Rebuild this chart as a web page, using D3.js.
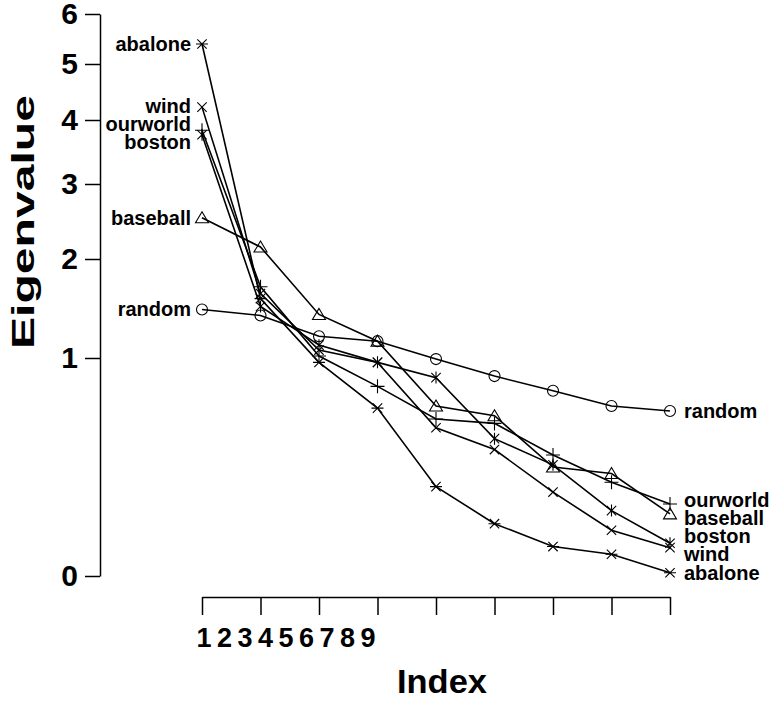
<!DOCTYPE html>
<html>
<head>
<meta charset="utf-8">
<script src="https://cdn.jsdelivr.net/npm/d3@7"></script>
<style>
  body { margin: 0; background: #fff; }
  text { font-family: "Liberation Sans", Arial, sans-serif; font-weight: bold; fill: #000; }
</style>
</head>
<body>
<svg id="chart" width="772" height="702"></svg>
<script>
// data
const indices = [1, 2, 3, 4, 5, 6, 7, 8, 9];
const xTickLabels = ["1", "2", "3", "4", "5", "6", "7", "8", "9"];
const yTicks = [0, 1, 2, 3, 4, 5, 6];
const seriesNames = ["abalone", "wind", "ourworld", "boston", "baseball", "random"];
const abalone  = [5.40, 1.60, 0.98, 0.77, 0.41, 0.24, 0.135, 0.10, 0.015];
const wind     = [4.23, 1.65, 1.08, 0.98, 0.68, 0.58, 0.385, 0.21, 0.13];
const ourworld = [3.84, 1.72, 1.02, 0.87, 0.72, 0.70, 0.555, 0.43, 0.33];
const boston   = [3.77, 1.52, 1.13, 0.98, 0.91, 0.63, 0.51, 0.30, 0.15];
const baseball = [2.55, 2.16, 1.44, 1.17, 0.78, 0.735, 0.50, 0.47, 0.285];
const random   = [1.49, 1.43, 1.22, 1.17, 0.995, 0.917, 0.85, 0.78, 0.757];

const seriesValues = [abalone, wind, ourworld, boston, baseball, random];
const markerKinds = ["starH", "times", "plus", "starV", "triangle", "circle"];

const svg = d3.select("#chart");

// x positions of the points, and a separate (squashed) scale for the digit labels
const x = d3.scaleLinear().domain([1, 9]).range([202, 670]);
const xLabel = d3.scaleLinear().domain([1, 9]).range([204, 368]);

// the value axis is stretched unevenly, so map each tick to where it sits
const y = d3.scaleLinear().domain(yTicks).range([576, 358, 259, 184, 120, 64, 14]);

// y axis
const yAxis = svg.append("g")
  .attr("transform", "translate(100,0)")
  .call(d3.axisLeft(y).tickValues(yTicks).tickFormat(d3.format("d"))
    .tickSize(15).tickSizeOuter(0).tickPadding(7));
yAxis.selectAll("path, line").attr("stroke", "#000").attr("stroke-width", 1.5);
yAxis.selectAll("text")
  .attr("font-size", 30)
  .attr("font-family", "Liberation Sans, Arial, sans-serif")
  .attr("font-weight", "bold");

// x axis (ticks only, labels drawn below)
const xAxis = svg.append("g")
  .attr("transform", "translate(0,597)")
  .call(d3.axisBottom(x).tickValues(indices).tickSize(18).tickSizeOuter(0).tickFormat(""));
xAxis.selectAll("path, line").attr("stroke", "#000").attr("stroke-width", 1.5);

svg.append("g").selectAll("text")
  .data(indices)
  .enter().append("text")
  .attr("x", d => xLabel(d))
  .attr("y", 647)
  .attr("text-anchor", "middle")
  .attr("font-size", 27)
  .text((d, i) => xTickLabels[i]);

// axis titles
svg.append("text")
  .attr("x", 442).attr("y", 693)
  .attr("text-anchor", "middle")
  .attr("font-size", 33)
  .attr("textLength", 90)
  .attr("lengthAdjust", "spacingAndGlyphs")
  .text("Index");

svg.append("text")
  .attr("transform", "translate(34,222) rotate(-90)")
  .attr("text-anchor", "middle")
  .attr("font-size", 31)
  .attr("textLength", 254)
  .attr("lengthAdjust", "spacingAndGlyphs")
  .text("Eigenvalue");

// lines
const line = d3.line().x((d, i) => x(indices[i])).y(d => y(d));
svg.append("g").selectAll("path")
  .data(seriesValues)
  .enter().append("path")
  .attr("d", d => line(d))
  .attr("fill", "none")
  .attr("stroke", "#000")
  .attr("stroke-width", 1.6);

// markers
function markerPath(kind) {
  const r = 6;
  const d = r * 0.78;
  switch (kind) {
    case "times": return `M${-d},${-d}L${d},${d}M${-d},${d}L${d},${-d}`;
    case "plus": return `M${-r - 1},0L${r + 1},0M0,${-r - 1}L0,${r + 1}`;
    case "starH": return `M${-d},${-d}L${d},${d}M${-d},${d}L${d},${-d}M${-r},0L${r},0`;
    case "starV": return `M${-d},${-d}L${d},${d}M${-d},${d}L${d},${-d}M0,${-r}L0,${r}`;
    case "triangle": return `M0,${-6}L${6.5},${5}L${-6.5},${5}Z`;
    case "circle": return `M${5.5},0A5.5,5.5 0 1,1 ${-5.5},0A5.5,5.5 0 1,1 ${5.5},0Z`;
  }
}

seriesValues.forEach((vals, s) => {
  svg.append("g").selectAll("path")
    .data(vals)
    .enter().append("path")
    .attr("transform", (d, i) => `translate(${x(indices[i])},${y(d)})`)
    .attr("d", markerPath(markerKinds[s]))
    .attr("fill", "none")
    .attr("stroke", "#000")
    .attr("stroke-width", 1.1);
});

// end labels, nudged apart where they would collide
function dodge(items, gap) {
  items.sort((a, b) => a.y - b.y);
  for (let k = 0; k < 100; k++) {
    for (let i = 1; i < items.length; i++) {
      const overlap = gap - (items[i].y - items[i - 1].y);
      if (overlap > 0) {
        items[i - 1].y -= overlap / 2;
        items[i].y += overlap / 2;
      }
    }
  }
  return items;
}

const leftLabels = dodge(seriesNames.map((n, s) => ({ name: n, y: y(seriesValues[s][0]) })), 18);
const rightLabels = dodge(seriesNames.map((n, s) => ({ name: n, y: y(seriesValues[s][8]) })), 18);

svg.append("g").selectAll("text")
  .data(leftLabels)
  .enter().append("text")
  .attr("x", x(1) - 11)
  .attr("y", d => d.y)
  .attr("dy", "0.35em")
  .attr("text-anchor", "end")
  .attr("font-size", 20)
  .text(d => d.name);

svg.append("g").selectAll("text")
  .data(rightLabels)
  .enter().append("text")
  .attr("x", x(9) + 14)
  .attr("y", d => d.y)
  .attr("dy", "0.35em")
  .attr("text-anchor", "start")
  .attr("font-size", 20)
  .text(d => d.name);
</script>
</body>
</html>
